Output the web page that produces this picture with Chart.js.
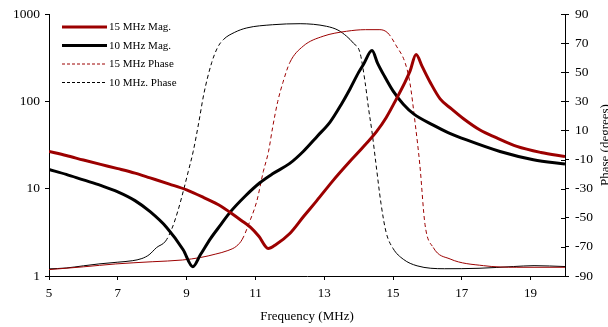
<!DOCTYPE html>
<html>
<head>
<meta charset="utf-8">
<script src="https://cdn.jsdelivr.net/npm/chart.js@4/dist/chart.umd.min.js"></script>
<style>
  html, body { margin: 0; padding: 0; background: #fff; }
  #wrap { width: 608px; height: 327px; }
</style>
</head>
<body>
<div id="wrap"><canvas id="c" width="608" height="327"></canvas></div>
<script>
// ---- data ----
const seriesLabels = ['15 MHz Mag.', '10 MHz Mag.', '15 MHz Phase', '10 MHz. Phase'];

const mag15Freq = [5, 5.5, 6, 6.5, 7, 7.5, 7.94, 8.5, 9.0, 9.5, 10.0, 10.28, 10.6, 10.86, 11.1, 11.37, 11.6, 12.0, 12.4, 12.78, 13.25, 13.75, 14.1, 14.52, 14.8, 15.1, 15.35, 15.5, 15.67, 15.85, 16.08, 16.37, 16.7, 17.04, 17.53, 18.0, 18.6, 19.3, 20];
const mag15Val  = [26.7, 24, 21.3, 19, 17, 15.1, 13.3, 11.3, 9.7, 7.9, 6.3, 5.3, 4.3, 3.6, 2.85, 2.07, 2.3, 3.07, 4.8, 7.25, 12.3, 20.6, 29, 45, 65, 107, 166, 225, 344, 250, 166, 107, 82, 63.7, 47, 38.5, 30.5, 26, 23.4];

const mag10Freq = [5, 5.5, 6, 6.5, 7, 7.5, 7.94, 8.42, 8.9, 9.18, 9.4, 9.7, 10.0, 10.26, 10.7, 11.13, 11.5, 12.0, 12.39, 12.8, 13.17, 13.5, 13.75, 14.0, 14.14, 14.39, 14.55, 14.75, 15.0, 15.3, 15.6, 16.17, 16.6, 17.14, 18.11, 19.08, 20];
const mag10Val  = [16.6, 14.6, 12.6, 10.9, 9.2, 7.3, 5.45, 3.6, 2.0, 1.28, 1.75, 2.7, 3.9, 5.35, 8.2, 11.7, 14.8, 19.5, 26.7, 40, 58, 93, 139, 215, 265, 382, 275, 195, 132, 93, 72, 53.5, 44, 36.2, 26.7, 21.5, 19.2];

const ph15Freq = [5, 6, 6.94, 8, 8.88, 9.4, 9.85, 10.2, 10.45, 10.62, 10.84, 11.04, 11.23, 11.38, 11.5, 11.65, 11.8, 12.0, 12.39, 12.97, 13.65, 14.2, 14.62, 14.85, 15.1, 15.35, 15.49, 15.64, 15.78, 15.93, 16.17, 16.66, 17.63, 18.6, 20];
const ph15Val  = [-85.6, -83.7, -81.7, -80.2, -79, -77.3, -74.9, -72.5, -69.5, -64.7, -52.2, -38.6, -18.2, -4.6, 12, 30, 43, 56.7, 68, 74.8, 78.2, 79.3, 79.3, 77, 68, 56.7, 43, 15.8, -13.6, -54.5, -70.4, -78.3, -82.9, -84, -84];

const ph10Freq = [5, 5.5, 6, 6.45, 7, 7.42, 7.7, 7.91, 8.13, 8.39, 8.58, 8.75, 8.9, 9.05, 9.19, 9.35, 9.5, 9.73, 9.9, 10.07, 10.4, 10.75, 11.5, 12.3, 13.07, 13.4, 13.65, 13.85, 14.04, 14.19, 14.29, 14.39, 14.5, 14.65, 14.8, 15.0, 15.3, 15.7, 16.5, 17.5, 18.5, 19.1, 20];
const ph10Val  = [-85.1, -84.5, -83, -81.7, -80.5, -79.5, -78, -75.4, -70.4, -66, -57, -45, -32, -18, -4.6, 15, 35, 56.7, 67, 72.5, 77.5, 80.5, 82.7, 83.4, 81.6, 79, 74.8, 70, 63.5, 43, 25, 9, -12, -40, -60, -71, -78.5, -83, -85, -84.7, -83.5, -82.9, -83.5];

const xTickValues = [5, 7, 9, 11, 13, 15, 17, 19];
const magTickValues = [1, 10, 100, 1000];
const phaseTickValues = [-90, -70, -50, -30, -10, 10, 30, 50, 70, 90];

const RED = '#9c0000';
const BLK = '#000000';
const FONT = "'Liberation Serif', 'Times New Roman', serif";

const zip = (xs, ys) => xs.map((x, i) => ({ x: x, y: ys[i] }));

const steepDash = ctx => {
  const dx = Math.abs(ctx.p1.x - ctx.p0.x), dy = Math.abs(ctx.p1.y - ctx.p0.y);
  return dy > 1.3 * dx ? [4, 3] : undefined;
};

const datasets = [
  { label: seriesLabels[0], data: zip(mag15Freq, mag15Val), yAxisID: 'yMag', borderColor: RED, borderWidth: 3, order: 0, legendDash: [] },
  { label: seriesLabels[1], data: zip(mag10Freq, mag10Val), yAxisID: 'yMag', borderColor: BLK, borderWidth: 3, order: 0, legendDash: [] },
  { label: seriesLabels[2], data: zip(ph15Freq, ph15Val), yAxisID: 'yPh', borderColor: RED, borderWidth: 1, order: 1, legendDash: [3, 2], segment: { borderDash: steepDash } },
  { label: seriesLabels[3], data: zip(ph10Freq, ph10Val), yAxisID: 'yPh', borderColor: BLK, borderWidth: 1, order: 1, legendDash: [3, 2], segment: { borderDash: steepDash } }
];
datasets.forEach(d => { d.pointRadius = 0; d.fill = false; d.cubicInterpolationMode = 'monotone'; d.borderDash = []; });

const customPlugin = {
  id: 'custom',
  afterDraw(chart) {
    const ctx = chart.ctx;
    // inward tick marks on the right axis (ticks cross the axis)
    const yPh = chart.scales.yPh;
    ctx.save();
    ctx.strokeStyle = '#000';
    ctx.lineWidth = 1;
    yPh.ticks.forEach(t => {
      const y = Math.round(yPh.getPixelForValue(t.value)) + 0.5;
      ctx.beginPath();
      ctx.moveTo(yPh.left - 4, y);
      ctx.lineTo(yPh.left, y);
      ctx.stroke();
    });
    // right axis title, rotated to read bottom-to-top
    ctx.font = '13px ' + FONT;
    ctx.fillStyle = '#000';
    ctx.textAlign = 'center';
    ctx.textBaseline = 'alphabetic';
    ctx.translate(609, (chart.chartArea.top + chart.chartArea.bottom) / 2);
    ctx.rotate(-Math.PI / 2);
    ctx.fillText('Phase (degrees)', 0, 0);
    ctx.restore();

    // legend inside the plot area
    ctx.save();
    ctx.font = '11px ' + FONT;
    ctx.textBaseline = 'middle';
    ctx.textAlign = 'left';
    chart.data.datasets.forEach((d, i) => {
      const y = 27 + i * 18.5;
      ctx.strokeStyle = d.borderColor;
      ctx.lineWidth = d.borderWidth;
      ctx.setLineDash(d.legendDash);
      ctx.beginPath();
      ctx.moveTo(62, y);
      ctx.lineTo(107, y);
      ctx.stroke();
      ctx.setLineDash([]);
      ctx.fillStyle = '#000';
      ctx.fillText(d.label, 109, y + 0.5);
    });
    ctx.restore();
  }
};

new Chart(document.getElementById('c'), {
  type: 'line',
  data: { datasets: datasets },
  options: {
    responsive: false,
    animation: false,
    devicePixelRatio: 1,
    layout: { padding: { top: 11, left: 0, right: 0, bottom: 0 } },
    plugins: { legend: { display: false }, tooltip: { enabled: false } },
    scales: {
      x: {
        type: 'linear', min: 5, max: 20,
        afterBuildTicks: s => { s.ticks = xTickValues.map(v => ({ value: v })); },
        afterFit: s => { s.height = 51; },
        border: { display: true, color: '#000', width: 1 },
        grid: { drawOnChartArea: false, drawTicks: true, tickLength: 4, color: '#000' },
        ticks: { color: '#000', font: { family: FONT, size: 13 }, padding: 6, maxRotation: 0, autoSkip: false },
        title: { display: true, text: 'Frequency (MHz)', color: '#000', font: { family: FONT, size: 13 }, padding: { top: 0, bottom: 3 } }
      },
      yMag: {
        type: 'logarithmic', position: 'left', min: 1, max: 1000,
        afterBuildTicks: s => { s.ticks = magTickValues.map(v => ({ value: v })); },
        afterFit: s => { s.width = 49; },
        border: { display: true, color: '#000', width: 1 },
        grid: { drawOnChartArea: false, drawTicks: true, tickLength: 4, color: '#000' },
        ticks: { color: '#000', font: { family: FONT, size: 13.5 }, padding: 5, callback: v => String(v), autoSkip: false }
      },
      yPh: {
        type: 'linear', position: 'right', min: -90, max: 90,
        afterBuildTicks: s => { s.ticks = phaseTickValues.map(v => ({ value: v })); },
        afterFit: s => { s.width = 43; },
        border: { display: true, color: '#000', width: 1 },
        grid: { drawOnChartArea: false, drawTicks: true, tickLength: 4, color: '#000' },
        ticks: { color: '#000', font: { family: FONT, size: 13.5 }, padding: 6, autoSkip: false }
      }
    }
  },
  plugins: [customPlugin]
});
</script>
</body>
</html>
